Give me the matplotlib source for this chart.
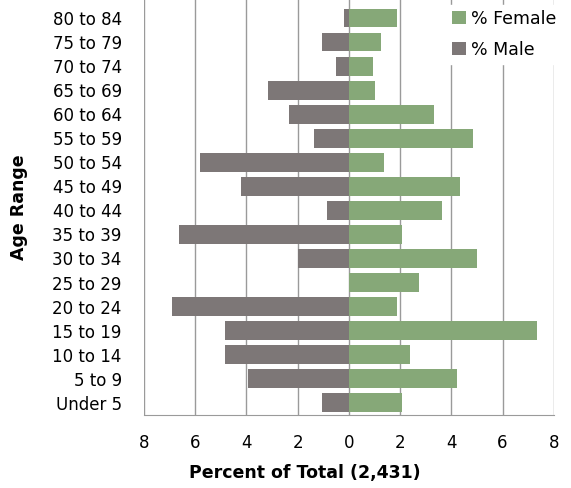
import matplotlib
matplotlib.use("Agg")
import matplotlib.pyplot as plt
from matplotlib.ticker import FuncFormatter

categories = ["Under 5", "5 to 9", "10 to 14", "15 to 19", "20 to 24", "25 to 29",
              "30 to 34", "35 to 39", "40 to 44", "45 to 49", "50 to 54", "55 to 59",
              "60 to 64", "65 to 69", "70 to 74", "75 to 79", "80 to 84"]
female = [2.06, 4.23, 2.40, 7.36, 1.89, 2.72, 4.99, 2.06, 3.65, 4.35, 1.39, 4.84,
          3.31, 1.02, 0.94, 1.26, 1.86]
male = [1.05, 3.93, 4.84, 4.84, 6.89, 0.0, 2.00, 6.64, 0.85, 4.22, 5.81, 1.35,
        2.34, 3.15, 0.52, 1.05, 0.20]
xticks = [-8, -6, -4, -2, 0, 2, 4, 6, 8]

female_color = "#86a878"
male_color = "#7d7777"

fig = plt.figure(figsize=(5.71, 4.88), dpi=100)
ax = fig.add_axes([0.252, 0.150, 0.718, 0.850])

y = list(range(len(categories)))
ax.barh(y, female, height=0.78, color=female_color, label="% Female", zorder=3)
ax.barh(y, [-m for m in male], height=0.78, color=male_color, label="% Male", zorder=3)

ax.set_xlim(-8, 8)
ax.set_ylim(-0.5, 16.75)
ax.set_xticks(xticks)
ax.xaxis.set_major_formatter(FuncFormatter(lambda v, p: f"{abs(int(round(v)))}"))
ax.set_yticks(y)
ax.set_yticklabels(categories)
ax.grid(axis="x", color="#9a9a9a", linewidth=1.0, zorder=0)
for s in ["top", "left", "right"]:
    ax.spines[s].set_visible(False)
ax.spines["bottom"].set_color("#9a9a9a")
ax.tick_params(axis="both", length=0)
ax.tick_params(axis="x", labelsize=12, pad=14)
ax.tick_params(axis="y", labelsize=12, pad=16)

ax.set_xlabel("Percent of Total (2,431)", fontsize=12.5, fontweight="bold")
ax.xaxis.set_label_coords(0.393, -0.118)
ax.set_ylabel("Age Range", fontsize=12.5, fontweight="bold")
ax.yaxis.set_label_coords(-0.283, 0.5)

leg = ax.legend(loc="upper right", bbox_to_anchor=(1.04, 1.01), frameon=True,
                fontsize=12.5, handlelength=0.8, handleheight=0.8, handletextpad=0.3,
                labelspacing=0.75, borderpad=0.3, fancybox=False, edgecolor="white",
                framealpha=1.0)
leg.set_zorder(5)

fig.savefig("out.png", dpi=100, facecolor="white")
